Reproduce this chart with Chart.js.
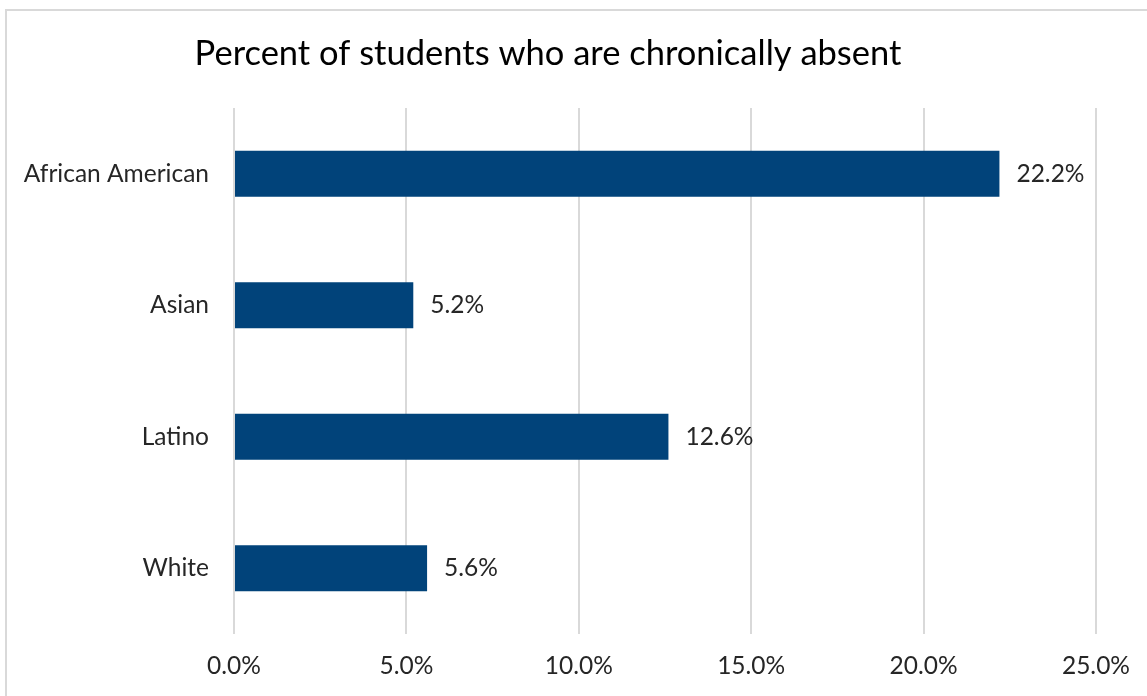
<!DOCTYPE html>
<html>
<head>
<meta charset="utf-8">
<script src="https://cdn.jsdelivr.net/npm/chart.js@4"></script>
<style>
  html, body { margin: 0; padding: 0; background: #fff; overflow: hidden; }
  #frame {
    position: absolute; left: 5px; top: 9px; width: 1160px; height: 720px;
    border: 2px solid #d9d9d9; box-sizing: border-box;
  }
  #wrap { position: absolute; left: 0; top: 0; width: 1147px; height: 696px; }
</style>
</head>
<body>
<div id="frame"></div>
<div id="wrap"><canvas id="myChart" width="1147" height="696"></canvas></div>
<script>
var groups = ["African American", "Asian", "Latino", "White"];
var pctAbsent = [22.2, 5.2, 12.6, 5.6];
var xTicks = [0, 5, 10, 15, 20, 25];

var FONT = "Lato, 'Open Sans', sans-serif";

// draws the value next to each bar
const barLabels = {
  id: "barLabels",
  afterDatasetsDraw(chart) {
    const ctx = chart.ctx;
    const meta = chart.getDatasetMeta(0);
    ctx.save();
    ctx.font = "24.5px " + FONT;
    ctx.fillStyle = "#262626";
    ctx.textAlign = "left";
    ctx.textBaseline = "middle";
    meta.data.forEach((bar, i) => {
      ctx.fillText(pctAbsent[i].toFixed(1) + "%", bar.x + 17, bar.y);
    });
    ctx.restore();
  },
};

const ctx = document.getElementById("myChart").getContext("2d");
const chart = new Chart(ctx, {
  type: "bar",
  data: {
    labels: groups,
    datasets: [
      {
        label: "Percent chronically absent",
        data: pctAbsent,
        backgroundColor: "#01437a",
        barPercentage: 0.35,
        categoryPercentage: 1,
      },
    ],
  },
  options: {
    indexAxis: "y",
    responsive: false,
    animation: false,
    layout: { padding: { left: 0, right: 51, top: 0, bottom: 0 } },
    plugins: {
      legend: { display: false },
      tooltip: { enabled: false },
      title: {
        display: true,
        text: "Percent of students who are chronically absent",
        color: "#000",
        font: { family: FONT, size: 34.5, weight: "normal" },
        padding: { top: 33, bottom: 33.5 },
      },
    },
    scales: {
      x: {
        min: 0,
        max: 25,
        afterBuildTicks: (scale) => {
          scale.ticks = xTicks.map((v) => ({ value: v }));
        },
        afterFit: (scale) => {
          scale.height = 62;
        },
        border: { display: false },
        grid: { color: "#d9d9d9", lineWidth: 2, drawTicks: false },
        ticks: {
          padding: 17,
          color: "#262626",
          font: { family: FONT, size: 24.5 },
          callback: (v) => Number(v).toFixed(1) + "%",
        },
      },
      y: {
        afterFit: (scale) => {
          scale.width = 234;
        },
        border: { display: false },
        grid: { display: false },
        ticks: {
          padding: 17,
          color: "#262626",
          font: { family: FONT, size: 24.5 },
        },
      },
    },
  },
  plugins: [barLabels],
});
</script>
</body>
</html>
